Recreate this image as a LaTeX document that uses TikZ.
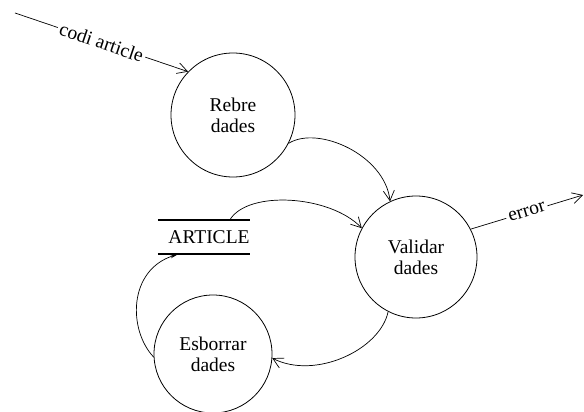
\documentclass[tikz,border=0pt]{standalone}
\usepackage{fontspec}
\setmainfont{Liberation Serif}
\usetikzlibrary{arrows.meta,calc}
\begin{document}
\begin{tikzpicture}[x=1pt,y=-1pt,
  txt/.style={font=\fontsize{19.5}{21}\selectfont},
  proc/.style={circle,draw,line width=0.8pt,inner sep=0pt,align=center,txt},
  flow/.style={line width=0.7pt,-{Straight Barb[length=10pt,width=11pt]}},
  flowlabel/.style={sloped,fill=white,inner sep=2.5pt,txt},
]
\useasboundingbox (0,0) rectangle (584,412);

% processes
\node[proc,minimum size=124pt] (rebre) at (233,115) {Rebre\\dades};
\node[proc,minimum size=122pt] (validar) at (416,257) {Validar\\dades};
\node[proc,minimum size=118pt] (esborrar) at (213,354) {Esborrar\\dades};

% data store
\node[txt,minimum width=92pt,minimum height=34pt,inner sep=0pt] (article) at (204,237) {\hspace*{10pt}ARTICLE};
\draw[line width=2pt] (article.north west) -- (article.north east)
                      (article.south west) -- (article.south east);

% external ends
\coordinate (src) at (15,13);
\coordinate (sink) at (583,195);

% flows
\draw[flow] (src) -- node[flowlabel] {codi article} (rebre.136);
\draw[flow] (rebre.-27) .. controls (318,125) and (385,155) .. (validar.115);
\draw[flow] ($(article.north west)!0.78!(article.north east)$)
            .. controls (248,190) and (330,195) .. (validar.152);
\draw[flow] (validar.-117) .. controls (380,350) and (315,380) .. (esborrar.-4);
\draw[line width=0.7pt,-{Stealth[length=8pt,width=3.5pt]}] (esborrar.183)
            .. controls (128,330) and (128,270) ..
            ($(article.south west)!0.22!(article.south east)$);
\draw[flow] (validar.27) -- node[flowlabel] {error} (sink);
\end{tikzpicture}
\end{document}
